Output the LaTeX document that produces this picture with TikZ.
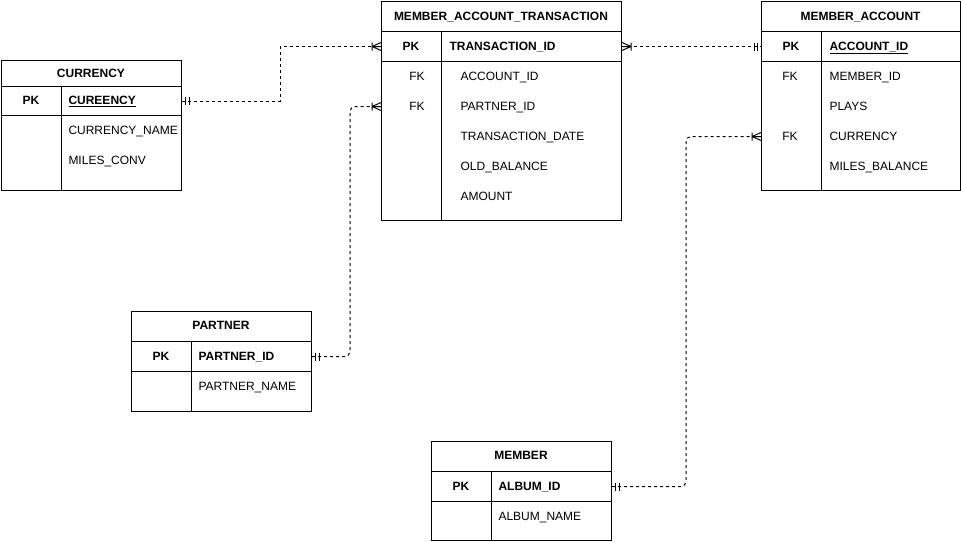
\documentclass[tikz,border=0pt]{standalone}
\usepackage{fontspec}
\setmainfont{Liberation Sans}
\begin{document}
\begin{tikzpicture}[x=1pt,y=-1pt,line width=1pt,
  every node/.style={font=\fontsize{12}{14}\selectfont,inner sep=0pt},
  box/.style={draw,anchor=north west},
  row/.style={anchor=north west},
  txt/.style={anchor=base,yshift=-4.3pt},
  ttl/.style={txt,font=\fontsize{12}{14}\selectfont\bfseries},
  kb/.style={txt,font=\fontsize{12}{14}\selectfont\bfseries},
  fld/.style={anchor=base west,yshift=-4.3pt},
  fldb/.style={fld,font=\fontsize{12}{14}\selectfont\bfseries},
  rel/.style={dash pattern=on 3pt off 3pt},
  mone/.pic={\draw[solid] (3.5,-4)--(3.5,4) (7,-4)--(7,4);},
  cmany/.pic={\draw[solid] (9,-4)--(9,4) (9,0)--(0,4) (9,0)--(0,-4) (9,0)--(0,0);}]
\useasboundingbox (0,0) rectangle (961,541);

% CURRENCY
\node[box,minimum width=180pt,minimum height=130pt] (cur) at (1,60) {};
\node[ttl] (cur-t) at (91,73) {CURRENCY};
\node[row,draw,minimum width=180pt,minimum height=29pt] (cur-pk) at (1,86) {};
\draw ([xshift=60pt]cur-pk.north west) -- ([xshift=60pt]cur.south west);
\node[kb] (cur-k) at (31,100.5) {PK};
\node[fldb] (cur-f0) at (68,100.5) {\underline{CUREENCY}};
\node[fld] (cur-f1) at (68,130) {CURRENCY\_NAME};
\node[fld] (cur-f2) at (68,160) {MILES\_CONV};

% MEMBER_ACCOUNT_TRANSACTION
\node[box,minimum width=240pt,minimum height=219pt] (mat) at (381,1) {};
\node[ttl] (mat-t) at (501,16) {MEMBER\_ACCOUNT\_TRANSACTION};
\node[row,draw,minimum width=240pt,minimum height=30pt] (mat-pk) at (381,31) {};
\draw ([xshift=60pt]mat-pk.north west) -- ([xshift=60pt]mat.south west);
\node[kb] (mat-k) at (411,46) {PK};
\node[fldb] (mat-f0) at (449,46) {TRANSACTION\_ID};
\node[row,minimum width=240pt,minimum height=30pt] (mat-r1) at (381,61) {};
\node[row,minimum width=240pt,minimum height=30pt] (mat-r2) at (381,91) {};
\node[txt] (mat-k1) at (417,76) {FK};
\node[txt] (mat-k2) at (417,106) {FK};
\node[fld] (mat-f1) at (460,76) {ACCOUNT\_ID};
\node[fld] (mat-f2) at (460,106) {PARTNER\_ID};
\node[fld] (mat-f3) at (460,136) {TRANSACTION\_DATE};
\node[fld] (mat-f4) at (460,166) {OLD\_BALANCE};
\node[fld] (mat-f5) at (460,196) {AMOUNT};

% MEMBER_ACCOUNT
\node[box,minimum width=199pt,minimum height=189pt] (ma) at (761,1) {};
\node[ttl] (ma-t) at (860.5,16) {MEMBER\_ACCOUNT};
\node[row,draw,minimum width=199pt,minimum height=30pt] (ma-pk) at (761,31) {};
\draw ([xshift=60pt]ma-pk.north west) -- ([xshift=60pt]ma.south west);
\node[kb] (ma-k) at (791,46) {PK};
\node[fldb] (ma-f0) at (829,46) {\underline{ACCOUNT\_ID}};
\node[row,minimum width=199pt,minimum height=30pt] (ma-r3) at (761,121) {};
\node[txt] (ma-k1) at (790,76) {FK};
\node[txt] (ma-k3) at (790,136) {FK};
\node[fld] (ma-f1) at (829,76) {MEMBER\_ID};
\node[fld] (ma-f2) at (829,106) {PLAYS};
\node[fld] (ma-f3) at (829,136) {CURRENCY};
\node[fld] (ma-f4) at (829,166) {MILES\_BALANCE};

% PARTNER
\node[box,minimum width=180pt,minimum height=100pt] (par) at (131,311) {};
\node[ttl] (par-t) at (221,325.5) {PARTNER};
\node[row,draw,minimum width=180pt,minimum height=30pt] (par-pk) at (131,341) {};
\draw ([xshift=60pt]par-pk.north west) -- ([xshift=60pt]par.south west);
\node[kb] (par-k) at (161,356) {PK};
\node[fldb] (par-f0) at (198,356) {PARTNER\_ID};
\node[fld] (par-f1) at (198,386) {PARTNER\_NAME};

% MEMBER
\node[box,minimum width=180pt,minimum height=99pt] (mem) at (431,441) {};
\node[ttl] (mem-t) at (521,455.5) {MEMBER};
\node[row,draw,minimum width=180pt,minimum height=30pt] (mem-pk) at (431,471) {};
\draw ([xshift=60pt]mem-pk.north west) -- ([xshift=60pt]mem.south west);
\node[kb] (mem-k) at (461,486) {PK};
\node[fldb] (mem-f0) at (498,486) {ALBUM\_ID};
\node[fld] (mem-f1) at (498,516) {ALBUM\_NAME};

% relations
\draw[rel] (cur-pk.east) -| ([xshift=-101pt]mat-pk.west) -- (mat-pk.west);
\draw[rel,rounded corners=5pt] (par-pk.east) -| ([xshift=-31pt]mat-r2.west) -- (mat-r2.west);
\draw[rel] (mat-pk.east) -- (ma-pk.west);
\draw[rel,rounded corners=5pt] (mem-pk.east) -| ([xshift=-75pt]ma-r3.west) -- (ma-r3.west);

\pic at (cur-pk.east) {mone};
\pic[rotate=180] at (mat-pk.west) {cmany};
\pic at (par-pk.east) {mone};
\pic[rotate=180] at (mat-r2.west) {cmany};
\pic at (mat-pk.east) {cmany};
\pic[rotate=180] at (ma-pk.west) {mone};
\pic at (mem-pk.east) {mone};
\pic[rotate=180] at (ma-r3.west) {cmany};
\end{tikzpicture}
\end{document}
